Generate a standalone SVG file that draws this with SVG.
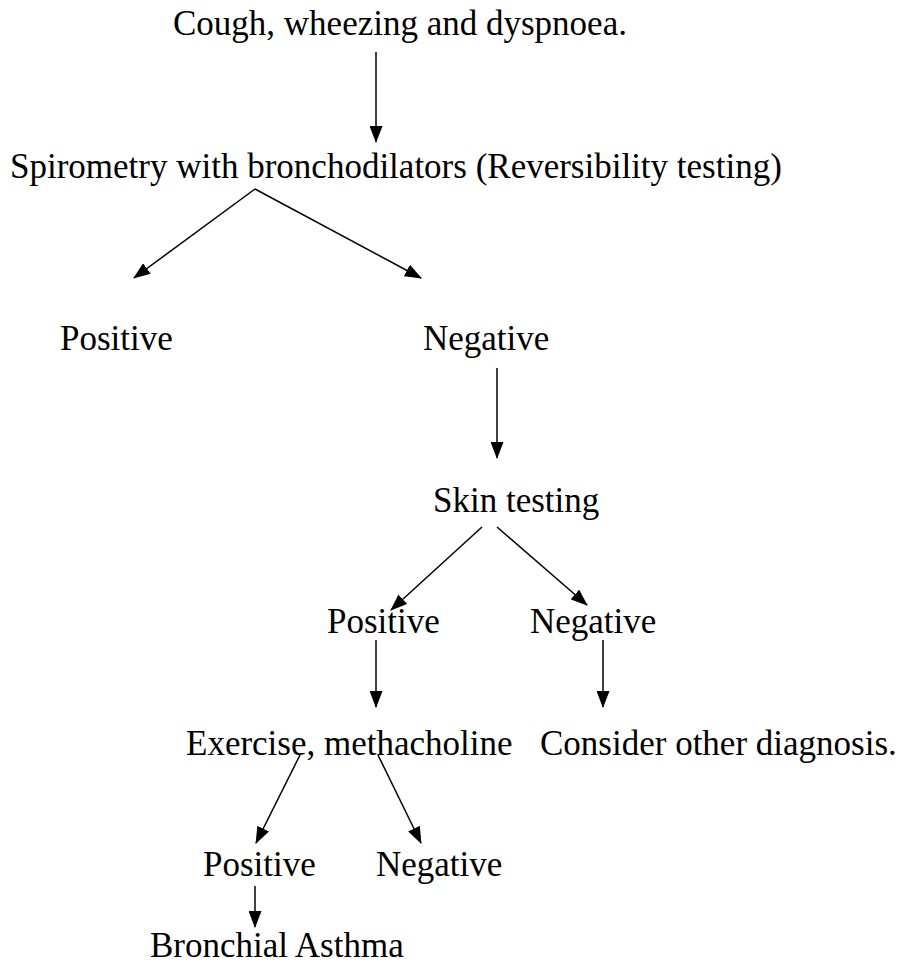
<svg xmlns="http://www.w3.org/2000/svg" width="900" height="968" viewBox="0 0 900 968">
<style>
text{font-family:"Liberation Serif","Times New Roman",serif;font-size:35px;fill:#000}
.c line{stroke:#000;stroke-width:1.5;marker-end:url(#ah)}
</style>
<defs>
<marker id="ah" markerUnits="userSpaceOnUse" markerWidth="17" markerHeight="13" viewBox="0 0 17 13" refX="16" refY="6.5" orient="auto">
<path d="M0,0 L17,6.5 L0,13 Z" fill="#000"/>
</marker>
</defs>
<rect width="900" height="968" fill="#fff"/>
<g id="n1"><text x="173" y="35">Cough, wheezing and dyspnoea.</text></g>
<g id="n2"><text x="10" y="178">Spirometry with bronchodilators (Reversibility testing)</text></g>
<g id="n3"><text x="60" y="350">Positive</text></g>
<g id="n4"><text x="423" y="350">Negative</text></g>
<g id="n5"><text x="433" y="512">Skin testing</text></g>
<g id="n6"><text x="327" y="633">Positive</text></g>
<g id="n7"><text x="530" y="633">Negative</text></g>
<g id="n8"><text x="186" y="755">Exercise, methacholine</text></g>
<g id="n9"><text x="540" y="755">Consider other diagnosis.</text></g>
<g id="n10"><text x="203" y="876">Positive</text></g>
<g id="n11"><text x="376" y="876">Negative</text></g>
<g id="n12"><text x="150" y="957">Bronchial Asthma</text></g>
<g id="connectors" class="c">
<line x1="376" y1="52" x2="376" y2="142"/>
<line x1="255" y1="189" x2="134" y2="278"/>
<line x1="255" y1="189" x2="421" y2="278"/>
<line x1="497" y1="368" x2="497" y2="458"/>
<line x1="482" y1="527" x2="391" y2="610"/>
<line x1="497" y1="527" x2="587" y2="605"/>
<line x1="376" y1="640" x2="376" y2="707"/>
<line x1="603" y1="640" x2="603" y2="707"/>
<line x1="300" y1="755" x2="256" y2="843"/>
<line x1="378" y1="755" x2="421" y2="843"/>
<line x1="255" y1="886" x2="255" y2="927"/>
</g>
</svg>
